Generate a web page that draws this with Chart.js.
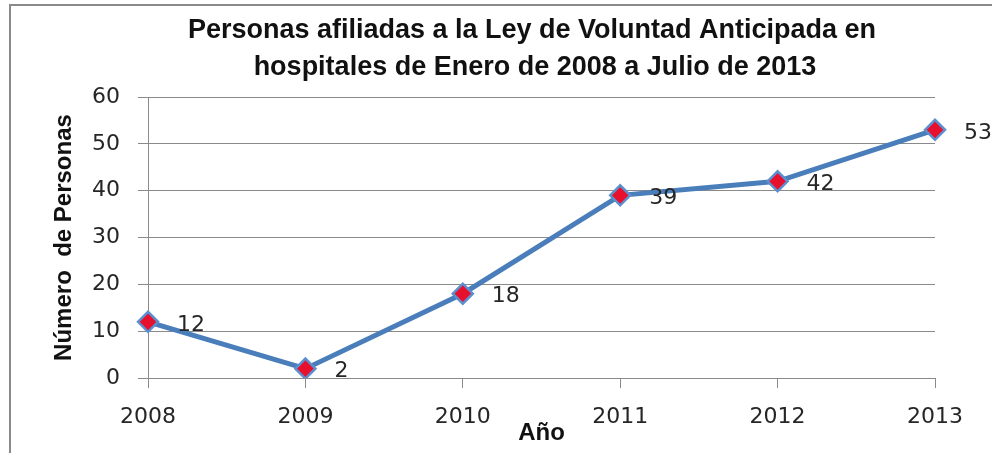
<!DOCTYPE html>
<html>
<head>
<meta charset="utf-8">
<script src="https://cdn.jsdelivr.net/npm/chart.js@4/dist/chart.umd.min.js"></script>
<style>
  body { margin: 0; background: #fff; }
  #wrap { position: relative; width: 992px; height: 453px; overflow: hidden; }
  #frame { position: absolute; left: 9px; top: 4px; width: 1000px; height: 460px;
           border-top: 2px solid #8a8a8a; border-left: 2px solid #8a8a8a; pointer-events: none; }
</style>
</head>
<body>
<div id="wrap">
  <canvas id="chart-canvas" width="992" height="453"></canvas>
  <div id="frame"></div>
</div>
<script>
// datos del grafico
var years = ["2008", "2009", "2010", "2011", "2012", "2013"];
var personas = [12, 2, 18, 39, 42, 53];
var titleLines = ["Personas afiliadas a la Ley de Voluntad Anticipada en",
                  "hospitales de Enero de 2008 a Julio de 2013"];

var gridColor = "#8a8a8a";
var textColor = "#262626";

// titulo dibujado a mano (centrado como en el original)
var titlePlugin = {
  id: "titulo",
  afterDraw: function(chart){
    var ctx = chart.ctx;
    ctx.save();
    ctx.font = "bold 27px 'Liberation Sans', Arial, sans-serif";
    ctx.fillStyle = "#111";
    ctx.textAlign = "center";
    ctx.textBaseline = "middle";
    ctx.fillText(titleLines[0], 532, 31);
    ctx.fillText(titleLines[1], 535, 68);
    ctx.restore();
  }
};

// etiquetas de valores a la derecha de cada punto
var labelPlugin = {
  id: "etiquetas",
  afterDatasetsDraw: function(chart){
    var ctx = chart.ctx;
    var meta = chart.getDatasetMeta(0);
    ctx.save();
    ctx.font = "22px 'DejaVu Sans', sans-serif";
    ctx.fillStyle = textColor;
    ctx.textAlign = "left";
    ctx.textBaseline = "middle";
    meta.data.forEach(function(pt, i){
      ctx.fillText(String(personas[i]), pt.x + 29, pt.y + 3);
    });
    ctx.restore();
  }
};

var ctx = document.getElementById("chart-canvas");
new Chart(ctx, {
  type: "line",
  data: {
    labels: years,
    datasets: [{
      data: personas,
      borderColor: "#4a7ebb",
      borderWidth: 5,
      tension: 0,
      pointStyle: "rectRot",
      pointRadius: 10,
      pointHoverRadius: 10,
      pointBackgroundColor: "#e8112d",
      pointBorderColor: "#5b8fd0",
      pointBorderWidth: 2.5
    }]
  },
  options: {
    responsive: false,
    animation: false,
    events: [],
    layout: { padding: { left: 10, right: 57, top: 97, bottom: 0 } },
    plugins: {
      legend: { display: false },
      title: { display: false },
      tooltip: { enabled: false }
    },
    scales: {
      x: {
        offset: false,
        afterFit: function(s){ s.height = 75; },
        grid: { display: true, drawOnChartArea: false, tickLength: 10, color: gridColor },
        border: { color: gridColor },
        ticks: { color: textColor, padding: 16, font: { family: "'DejaVu Sans', sans-serif", size: 22 } },
        title: {
          display: true, text: "Año", color: "#111",
          font: { family: "'Liberation Sans', Arial, sans-serif", size: 24, weight: "bold" },
          padding: { top: 0, bottom: 5 }
        }
      },
      y: {
        min: 0, max: 60,
        afterFit: function(s){ s.width = 138; },
        grid: { color: gridColor, tickLength: 10 },
        border: { color: gridColor },
        ticks: { stepSize: 10, color: textColor, padding: 18, font: { family: "'DejaVu Sans', sans-serif", size: 22 } },
        title: {
          display: true, text: "Número  de Personas", color: "#111",
          font: { family: "'Liberation Sans', Arial, sans-serif", size: 24, weight: "bold" },
          padding: { top: 40, bottom: 0 }
        }
      }
    }
  },
  plugins: [titlePlugin, labelPlugin]
});
</script>
</body>
</html>
